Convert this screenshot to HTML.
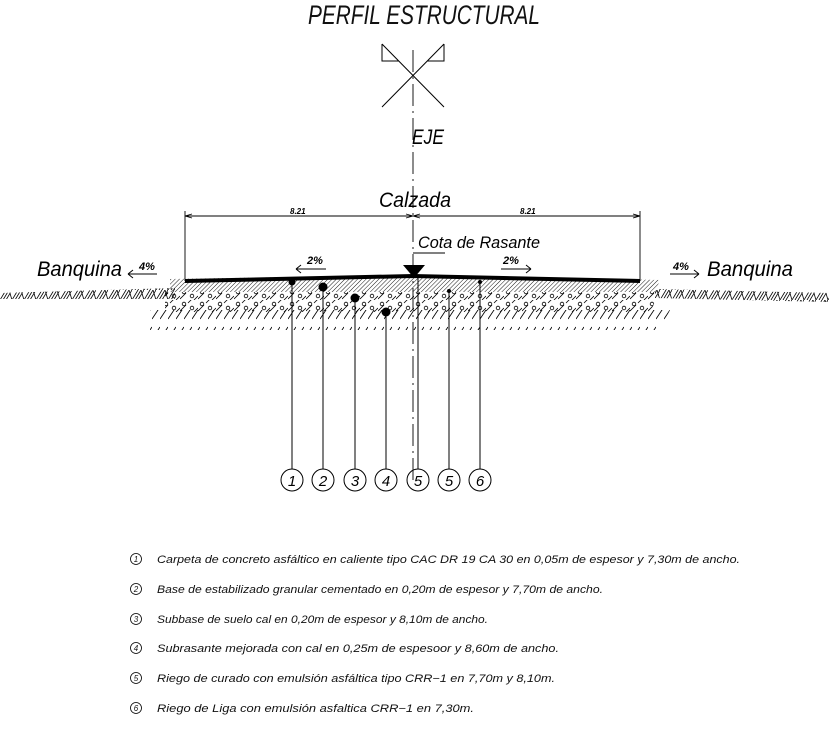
<!DOCTYPE html>
<html><head><meta charset="utf-8"><style>html,body{margin:0;padding:0;background:#fff}svg{display:block}</style></head>
<body>
<svg width="829" height="730" viewBox="0 0 829 730" xmlns="http://www.w3.org/2000/svg" font-family="Liberation Sans, DejaVu Sans, sans-serif" font-style="italic">
<defs>
<pattern id="fine" width="3" height="3" patternUnits="userSpaceOnUse" patternTransform="rotate(45)"><line x1="0" y1="0" x2="0" y2="3" stroke="#000" stroke-width="0.9"/></pattern>
<pattern id="agg" width="18" height="12" patternUnits="userSpaceOnUse"><circle cx="4" cy="4" r="1.8" fill="none" stroke="#000" stroke-width="0.8"/><circle cx="12" cy="8" r="1.8" fill="none" stroke="#000" stroke-width="0.8"/><line x1="0" y1="11" x2="6" y2="5" stroke="#000" stroke-width="0.8"/><line x1="8" y1="3" x2="14" y2="-3" stroke="#000" stroke-width="0.8"/><line x1="14" y1="12" x2="18" y2="8" stroke="#000" stroke-width="0.8"/></pattern>
<pattern id="diag" width="8" height="20" patternUnits="userSpaceOnUse"><line x1="0" y1="19" x2="8" y2="7" stroke="#000" stroke-width="0.9"/></pattern>
<pattern id="gnd" width="12" height="10" patternUnits="userSpaceOnUse"><line x1="0" y1="10" x2="6" y2="0" stroke="#000" stroke-width="0.8"/><line x1="3" y1="10" x2="9" y2="0" stroke="#000" stroke-width="0.8"/><line x1="6" y1="10" x2="12" y2="0" stroke="#000" stroke-width="0.8"/><line x1="9" y1="0" x2="12" y2="10" stroke="#000" stroke-width="0.8"/></pattern>
</defs>
<text x="308" y="24" font-size="27" textLength="232" lengthAdjust="spacingAndGlyphs" fill="#111">PERFIL  ESTRUCTURAL</text>
<g stroke="#000" stroke-width="1" fill="none">
<line x1="382" y1="107" x2="444" y2="44"/><line x1="382" y1="44" x2="444" y2="107"/>
<polyline points="382,44 382,61 399,61"/><polyline points="444,44 444,61 427,61"/>
<line x1="413" y1="50" x2="413" y2="485" stroke-dasharray="22,5,2,5" stroke-width="0.9"/>
</g>
<text x="412" y="144" font-size="21" textLength="32" lengthAdjust="spacingAndGlyphs">EJE</text>
<text x="379" y="207" font-size="21" textLength="72" lengthAdjust="spacingAndGlyphs">Calzada</text>
<g stroke="#000" stroke-width="0.9" fill="none">
<line x1="185" y1="216" x2="640" y2="216"/>
<line x1="185" y1="211" x2="185" y2="281"/><line x1="640" y1="211" x2="640" y2="280"/>
<path d="M185,216 l7,-2 M185,216 l7,2 M640,216 l-7,-2 M640,216 l-7,2 M413,216 l-7,-2 M413,216 l-7,2 M413,216 l7,-2 M413,216 l7,2"/>
<line x1="413" y1="253" x2="445" y2="253"/>
</g>
<text x="290" y="214" font-size="8" font-weight="bold">8.21</text>
<text x="520" y="214" font-size="8" font-weight="bold">8.21</text>
<text x="418" y="248" font-size="17" textLength="122" lengthAdjust="spacingAndGlyphs">Cota  de  Rasante</text>
<polygon points="403,265 425,265 414,278" fill="#000"/>
<polygon points="0,293 175,288 175,299 0,299" fill="url(#gnd)"/>
<polygon points="655,289 829,293 829,302 655,298" fill="url(#gnd)"/>
<polygon points="170,279 413,275 660,280 655,292 170,292" fill="url(#fine)"/>
<polygon points="165,292 660,292 650,312 165,312" fill="url(#agg)"/>
<polygon points="150,310 670,310 660,330 150,330" fill="url(#diag)"/>
<polyline points="185,281 413,276 640,281" stroke="#000" stroke-width="4" fill="none"/>
<text x="37" y="276" font-size="21" textLength="85" lengthAdjust="spacingAndGlyphs">Banquina</text>
<text x="139" y="270" font-size="11" font-weight="bold">4%</text>
<path d="M128,274 h29 M128,274 l5,-4 M128,274 l5,4" stroke="#000" fill="none"/>
<text x="307" y="264" font-size="11" font-weight="bold">2%</text>
<path d="M296,269 h30 M296,269 l5,-4 M296,269 l5,4" stroke="#000" fill="none"/>
<text x="503" y="264" font-size="11" font-weight="bold">2%</text>
<path d="M501,269 h30 M531,269 l-5,-4 M531,269 l-5,4" stroke="#000" fill="none"/>
<text x="673" y="270" font-size="11" font-weight="bold">4%</text>
<path d="M670,274 h29 M699,274 l-5,-4 M699,274 l-5,4" stroke="#000" fill="none"/>
<text x="707" y="276" font-size="21" textLength="86" lengthAdjust="spacingAndGlyphs">Banquina</text>
<g stroke="#000" stroke-width="1" fill="none">
<line x1="292" y1="282" x2="292" y2="469"/><line x1="323" y1="287" x2="323" y2="469"/>
<line x1="355" y1="298" x2="355" y2="469"/><line x1="386" y1="312" x2="386" y2="469"/>
<line x1="418" y1="276" x2="418" y2="469"/><line x1="449" y1="291" x2="449" y2="469"/>
<line x1="480" y1="282" x2="480" y2="469"/>
</g>
<g fill="#000"><circle cx="292" cy="282" r="3.5"/><circle cx="323" cy="287" r="4.5"/><circle cx="355" cy="298" r="4.5"/><circle cx="386" cy="312" r="4.5"/><circle cx="449" cy="291" r="2"/><circle cx="480" cy="282" r="2"/></g>
<g stroke="#000" stroke-width="1" fill="none">
<circle cx="292" cy="480" r="11"/><circle cx="323" cy="480" r="11"/><circle cx="355" cy="480" r="11"/><circle cx="386" cy="480" r="11"/><circle cx="418" cy="480" r="11"/><circle cx="449" cy="480" r="11"/><circle cx="480" cy="480" r="11"/>
</g>
<g font-size="15" text-anchor="middle">
<text x="292" y="486">1</text><text x="323" y="486">2</text><text x="355" y="486">3</text><text x="386" y="486">4</text><text x="418" y="486">5</text><text x="449" y="486">5</text><text x="480" y="486">6</text>
</g>
<g font-size="11" fill="#111">
<g stroke="#000" fill="none" stroke-width="0.8"><circle cx="136" cy="559" r="5.5"/><circle cx="136" cy="589" r="5.5"/><circle cx="136" cy="619" r="5.5"/><circle cx="136" cy="648" r="5.5"/><circle cx="136" cy="678" r="5.5"/><circle cx="136" cy="708" r="5.5"/></g>
<g font-size="8" text-anchor="middle"><text x="136" y="562">1</text><text x="136" y="592">2</text><text x="136" y="622">3</text><text x="136" y="651">4</text><text x="136" y="681">5</text><text x="136" y="711">6</text></g>
<text x="157" y="563" textLength="583" lengthAdjust="spacingAndGlyphs">Carpeta  de  concreto  asfáltico  en  caliente  tipo  CAC  DR  19  CA  30  en  0,05m  de  espesor  y  7,30m  de  ancho.</text>
<text x="157" y="593" textLength="446" lengthAdjust="spacingAndGlyphs">Base  de  estabilizado  granular  cementado  en  0,20m  de  espesor  y  7,70m  de  ancho.</text>
<text x="157" y="623" textLength="331" lengthAdjust="spacingAndGlyphs">Subbase  de  suelo  cal  en  0,20m  de  espesor  y  8,10m  de  ancho.</text>
<text x="157" y="652" textLength="402" lengthAdjust="spacingAndGlyphs">Subrasante  mejorada  con  cal  en  0,25m  de  espesoor  y  8,60m  de  ancho.</text>
<text x="157" y="682" textLength="398" lengthAdjust="spacingAndGlyphs">Riego  de  curado  con  emulsión  asfáltica  tipo  CRR−1  en  7,70m  y  8,10m.</text>
<text x="157" y="712" textLength="317" lengthAdjust="spacingAndGlyphs">Riego  de  Liga  con  emulsión  asfaltica  CRR−1  en  7,30m.</text>
</g>
</svg>
</body></html>
